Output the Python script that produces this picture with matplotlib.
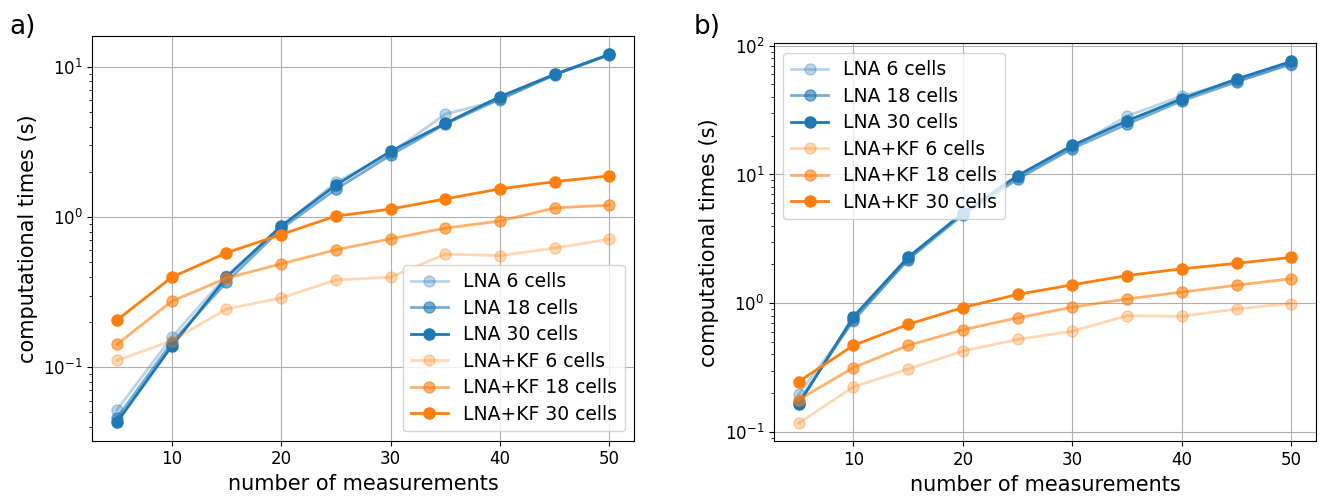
import numpy as np
import matplotlib
matplotlib.use('Agg')
import matplotlib.pyplot as plt

# number of measurements
n_meas = [5, 10, 15, 20, 25, 30, 35, 40, 45, 50]

# panel a) computational times (s)
a_lna_6 = [0.052, 0.158, 0.407, 0.857, 1.70, 2.65, 4.85, 6.01, 8.90, 12.1]
a_lna_18 = [0.046, 0.146, 0.368, 0.835, 1.53, 2.58, 4.16, 6.10, 8.83, 12.0]
a_lna_30 = [0.043, 0.138, 0.397, 0.871, 1.63, 2.74, 4.20, 6.33, 8.92, 12.1]
a_kf_6 = [0.111, 0.150, 0.244, 0.289, 0.381, 0.397, 0.566, 0.554, 0.621, 0.713]
a_kf_18 = [0.142, 0.275, 0.392, 0.488, 0.605, 0.716, 0.844, 0.940, 1.15, 1.20]
a_kf_30 = [0.206, 0.397, 0.578, 0.765, 1.015, 1.13, 1.32, 1.54, 1.72, 1.88]

# panel b) computational times (s)
b_lna_6 = [0.196, 0.726, 2.20, 5.06, 9.6, 16.2, 28.4, 40.7, 53.2, 71.3]
b_lna_18 = [0.171, 0.738, 2.18, 4.86, 9.2, 15.9, 24.6, 37.3, 52.3, 72.6]
b_lna_30 = [0.164, 0.784, 2.28, 5.00, 9.8, 16.8, 26.1, 38.8, 55.1, 75.5]
b_kf_6 = [0.117, 0.224, 0.308, 0.425, 0.523, 0.607, 0.800, 0.790, 0.904, 0.994]
b_kf_18 = [0.178, 0.316, 0.470, 0.622, 0.770, 0.931, 1.08, 1.22, 1.38, 1.55]
b_kf_30 = [0.246, 0.470, 0.684, 0.926, 1.17, 1.39, 1.64, 1.85, 2.04, 2.27]

labels = ['LNA 6 cells', 'LNA 18 cells', 'LNA 30 cells',
          'LNA+KF 6 cells', 'LNA+KF 18 cells', 'LNA+KF 30 cells']
alphas = [0.3, 0.6, 1.0]


def draw(ax, series, legend_loc):
    for i, ys in enumerate(series):
        clr = 'tab:blue' if i < 3 else 'tab:orange'
        ax.plot(n_meas, ys, 'o-', color=clr, alpha=alphas[i % 3], label=labels[i],
                linewidth=2, markersize=8)
    ax.set_yscale('log')
    ax.grid(True)
    ax.set_xlabel('number of measurements', fontsize=15)
    ax.set_ylabel('computational times (s)', fontsize=15)
    ax.tick_params(labelsize=12)
    ax.legend(loc=legend_loc, fontsize=13.5, labelspacing=0.4)


fig = plt.figure(figsize=(13.23, 4.98), dpi=100)
ax1 = fig.add_axes([0.0698, 0.1151, 0.4094, 0.8126])
ax2 = fig.add_axes([0.585, 0.1139, 0.4097, 0.7991])

draw(ax1, [a_lna_6, a_lna_18, a_lna_30, a_kf_6, a_kf_18, a_kf_30], 'lower right')
draw(ax2, [b_lna_6, b_lna_18, b_lna_30, b_kf_6, b_kf_18, b_kf_30], 'upper left')

fig.text(0.007, 0.932, 'a)', fontsize=19, va='baseline')
fig.text(0.524, 0.932, 'b)', fontsize=19, va='baseline')

plt.savefig('out.png', dpi=100)
plt.close()
